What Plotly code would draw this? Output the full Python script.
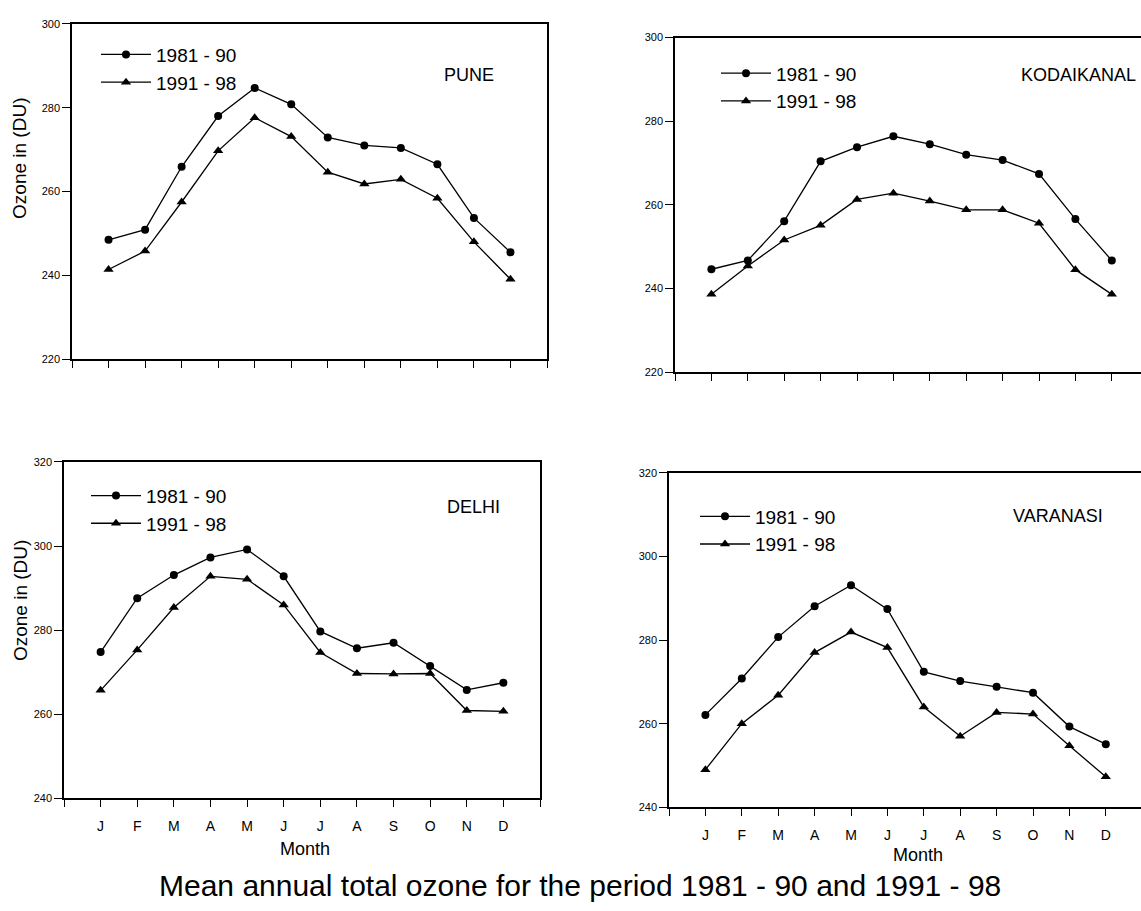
import plotly.graph_objects as go

months = ["J", "F", "M", "A", "M", "J", "J", "A", "S", "O", "N", "D"]
month_pos = list(range(1, 13))
series_names = ["1981 - 90", "1991 - 98"]

pune_1981 = [248.5, 250.9, 265.9, 278.0, 284.7, 280.8, 272.9, 271.0, 270.4, 266.5, 253.7, 245.5]
pune_1991 = [241.4, 245.8, 257.5, 269.7, 277.6, 273.1, 264.6, 261.8, 262.9, 258.4, 248.0, 239.1]

kodai_1981 = [244.6, 246.7, 256.1, 270.4, 273.8, 276.4, 274.5, 272.0, 270.7, 267.4, 256.6, 246.7]
kodai_1991 = [238.6, 245.4, 251.6, 255.1, 261.3, 262.8, 260.9, 258.8, 258.8, 255.6, 244.5, 238.6]

delhi_1981 = [274.8, 287.6, 293.1, 297.3, 299.2, 292.8, 279.7, 275.7, 277.0, 271.5, 265.8, 267.5]
delhi_1991 = [265.7, 275.3, 285.4, 292.8, 292.1, 286.0, 274.7, 269.7, 269.6, 269.7, 260.9, 260.7]

vara_1981 = [262.1, 270.8, 280.7, 288.1, 293.1, 287.4, 272.4, 270.2, 268.8, 267.4, 259.3, 255.1]
vara_1991 = [249.0, 260.0, 266.8, 277.0, 281.9, 278.2, 264.0, 257.0, 262.7, 262.3, 254.7, 247.3]

W, H = 1141, 911
FONT = "Liberation Sans, Arial"


def px(x):
    return x / W


def py(y):
    return 1 - y / H


panels = [
    dict(name="PUNE", s1=pune_1981, s2=pune_1991, x0=72, x1=547, yt=18, yb=358,
         xr=[0, 13], yr=[220, 300], yt_vals=[220, 240, 260, 280, 300], mirror=True, bottom=False,
         label=(469, 70, "center"), legend_xy=(96, 30), ytitle=155),
    dict(name="KODAIKANAL", s1=kodai_1981, s2=kodai_1991, x0=675, x1=1141, yt=32, yb=371,
         xr=[0, (1141 - 675) / 36.4], yr=[220, 300], yt_vals=[220, 240, 260, 280, 300], mirror=False, bottom=False,
         label=(1138, 70, "right"), legend_xy=(716, 49), ytitle=None),
    dict(name="DELHI", s1=delhi_1981, s2=delhi_1991, x0=64, x1=540, yt=462, yb=803,
         xr=[0, 13], yr=[240, 320], yt_vals=[240, 260, 280, 300, 320], mirror=True, bottom=True,
         label=(473, 508, "center"), legend_xy=(86, 477), ytitle=603),
    dict(name="VARANASI", s1=vara_1981, s2=vara_1991, x0=669, x1=1141, yt=473, yb=812,
         xr=[0, (1141 - 669) / 36.4], yr=[240, 320], yt_vals=[240, 260, 280, 300, 320], mirror=False, bottom=True,
         label=(1058, 517, "center"), legend_xy=(695, 498), ytitle=None),
]

fig = go.Figure()
annotations = []
layout_extra = {}

for i, p in enumerate(panels):
    k = "" if i == 0 else str(i + 1)
    xa, ya = "x" + k, "y" + k
    leg = "legend" if i == 0 else "legend" + str(i + 1)
    fig.add_trace(go.Scatter(
        x=month_pos, y=p["s1"], mode="lines+markers", name=series_names[0],
        xaxis=xa, yaxis=ya, legend=leg,
        line=dict(color="black", width=1.3),
        marker=dict(symbol="circle", size=8, color="black")))
    fig.add_trace(go.Scatter(
        x=month_pos, y=p["s2"], mode="lines+markers", name=series_names[1],
        xaxis=xa, yaxis=ya, legend=leg,
        line=dict(color="black", width=1.3),
        marker=dict(symbol="triangle-up", size=9, color="black")))

    ticktext = [""] + (months if p["bottom"] else [""] * 12) + [""]
    layout_extra["xaxis" + k] = dict(
        domain=[px(p["x0"]), px(p["x1"])], range=p["xr"], anchor=ya,
        tickmode="array", tickvals=list(range(0, 14)), ticktext=ticktext,
        ticks="outside", ticklen=7, tickwidth=1.3, tickcolor="black",
        showline=True, linecolor="black", linewidth=1.6, mirror=True,
        showgrid=False, zeroline=False,
        tickfont=dict(family=FONT, size=14, color="black"),
        ticklabelstandoff=7,
    )
    layout_extra["yaxis" + k] = dict(
        domain=[py(p["yb"]), py(p["yt"])], range=p["yr"], anchor=xa,
        tickmode="array", tickvals=p["yt_vals"],
        ticks="outside", ticklen=8, tickwidth=1.3, tickcolor="black",
        showline=True, linecolor="black", linewidth=1.6, mirror=p["mirror"],
        showgrid=False, zeroline=False,
        tickfont=dict(family=FONT, size=11, color="black"),
    )
    lx, ly = p["legend_xy"]
    layout_extra[leg] = dict(
        x=px(lx), y=py(ly), xanchor="left", yanchor="top",
        bgcolor="rgba(0,0,0,0)", borderwidth=0, itemwidth=50,
        font=dict(family=FONT, size=19, color="black"),
        tracegroupgap=0,
    )
    lbx, lby, anc = p["label"]
    annotations.append(dict(
        x=px(lbx), y=py(lby), xref="paper", yref="paper",
        text=p["name"], showarrow=False, xanchor=anc, yanchor="middle",
        font=dict(family=FONT, size=18, color="black")))
    if p["ytitle"] is not None:
        annotations.append(dict(
            x=px(20), y=py(p["ytitle"]), xref="paper", yref="paper",
            text="Ozone in (DU)", showarrow=False, textangle=-90,
            xanchor="center", yanchor="middle",
            font=dict(family=FONT, size=19, color="black")))

annotations.append(dict(x=px(305), y=py(854), xref="paper", yref="paper", text="Month",
                        showarrow=False, xanchor="center", yanchor="middle",
                        font=dict(family=FONT, size=18, color="black")))
annotations.append(dict(x=px(918), y=py(860), xref="paper", yref="paper", text="Month",
                        showarrow=False, xanchor="center", yanchor="middle",
                        font=dict(family=FONT, size=18, color="black")))
annotations.append(dict(x=px(580), y=py(891), xref="paper", yref="paper",
                        text="Mean annual total ozone for the period 1981 - 90 and 1991 - 98",
                        showarrow=False, xanchor="center", yanchor="middle",
                        font=dict(family=FONT, size=30, color="black")))

fig.update_layout(
    width=W, height=H, margin=dict(l=0, r=0, t=0, b=0),
    paper_bgcolor="white", plot_bgcolor="white",
    showlegend=True, annotations=annotations, **layout_extra,
)

fig.write_html("out.html", config={"displayModeBar": False},
               post_script="document.body.style.margin='0';")
